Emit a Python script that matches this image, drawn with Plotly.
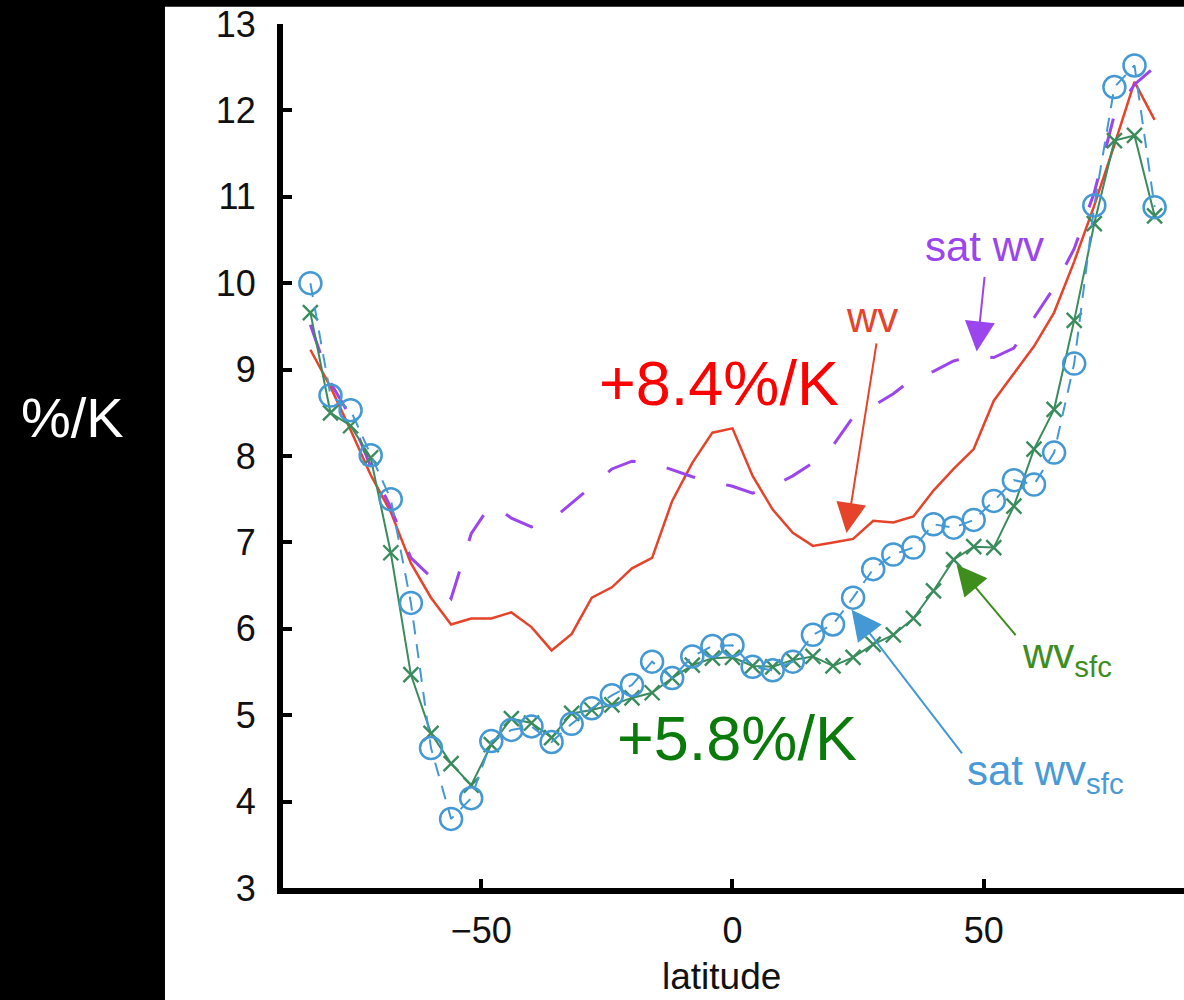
import plotly.graph_objects as go

# Latitude grid (degrees) and fractional change per K for each quantity
lat = [-84, -80, -76, -72, -68, -64, -60, -56, -52, -48, -44, -40, -36, -32,
       -28, -24, -20, -16, -12, -8, -4, 0, 4, 8, 12, 16, 20, 24, 28, 32, 36,
       40, 44, 48, 52, 56, 60, 64, 68, 72, 76, 80, 84]

wv = [9.23, 8.8, 8.3, 7.78, 7.35, 6.76, 6.36, 6.05, 6.12, 6.12, 6.19, 6.02,
      5.75, 5.94, 6.36, 6.48, 6.70, 6.82, 7.48, 7.92, 8.27, 8.32, 7.77, 7.38,
      7.11, 6.96, 7.0, 7.04, 7.25, 7.23, 7.30, 7.6, 7.85, 8.08, 8.64, 8.95,
      9.27, 9.66, 10.25, 10.9, 11.6, 12.33, 11.89]

sat_wv = [9.52, 8.85, 8.45, 7.88, 7.4, 6.82, 6.6, 6.35, 7.1, 7.45, 7.28, 7.18,
          7.26, 7.45, 7.65, 7.85, 7.94, 7.92, 7.84, 7.76, 7.7, 7.65, 7.57,
          7.65, 7.77, 7.92, 8.12, 8.45, 8.58, 8.72, 8.9, 8.98, 9.1, 9.16,
          9.14, 9.25, 9.6, 9.95, 10.4, 11.05, 11.95, 12.3, 12.5]

wv_sfc = [9.66, 8.50, 8.35, 7.98, 6.88, 5.47, 4.79, 4.44, 4.19, 4.66, 4.96,
          4.91, 4.74, 5.02, 5.06, 5.12, 5.2, 5.26, 5.43, 5.58, 5.66, 5.67,
          5.57, 5.56, 5.64, 5.68, 5.57, 5.67, 5.82, 5.93, 6.12, 6.44, 6.8,
          6.95, 6.94, 7.42, 8.08, 8.54, 9.57, 10.69, 11.65, 11.71, 10.78]

sat_wv_sfc = [10.0, 8.70, 8.53, 8.01, 7.50, 6.30, 4.62, 3.80, 4.04, 4.70,
              4.83, 4.87, 4.69, 4.90, 5.08, 5.23, 5.35, 5.62, 5.43, 5.68,
              5.80, 5.81, 5.56, 5.52, 5.62, 5.93, 6.05, 6.36, 6.69, 6.86,
              6.94, 7.21, 7.17, 7.26, 7.48, 7.72, 7.67, 8.04, 9.07, 10.90,
              12.27, 12.52, 10.88]

x_ticks = [-50, 0, 50]
y_ticks = [3, 4, 5, 6, 7, 8, 9, 10, 11, 12, 13]

RED = "#E5432A"
PURPLE = "#9B45EE"
GREEN = "#3A8C5C"
BLUE = "#4499D4"
FONT = "Liberation Sans, Arial, Helvetica, sans-serif"

fig = go.Figure()

fig.add_trace(go.Scatter(x=lat, y=wv, mode="lines", name="wv",
                         line=dict(color=RED, width=2.5)))
fig.add_trace(go.Scatter(x=lat, y=sat_wv, mode="lines", name="sat wv",
                         line=dict(color=PURPLE, width=3, dash="30px,32px")))
fig.add_trace(go.Scatter(x=lat, y=wv_sfc, mode="lines+markers", name="wv_sfc",
                         line=dict(color=GREEN, width=2),
                         marker=dict(symbol="x-thin", size=15,
                                     line=dict(color=GREEN, width=2.4))))
fig.add_trace(go.Scatter(x=lat, y=sat_wv_sfc, mode="lines+markers",
                         name="sat wv_sfc",
                         line=dict(color=BLUE, width=2, dash="14px,10px"),
                         marker=dict(symbol="circle-open", size=22,
                                     line=dict(color=BLUE, width=2.5))))


def pointer(tip_x, tip_y, tail_x, tail_y, color):
    return dict(x=tip_x, y=tip_y, ax=tail_x, ay=tail_y, axref="x", ayref="y",
                text="", showarrow=True, arrowhead=2, arrowsize=3,
                arrowwidth=2, arrowcolor=color)


annotations = [
    # rate labels
    dict(x=-2.7, y=8.85, text="+8.4%/K", showarrow=False,
         font=dict(color="#FF0000", size=63, family=FONT)),
    dict(x=0.9, y=4.74, text="+5.8%/K", showarrow=False,
         font=dict(color="#0A7A0A", size=63, family=FONT)),
    # series labels
    dict(x=27.7, y=9.6, text="wv", showarrow=False,
         font=dict(color=RED, size=42, family=FONT)),
    dict(x=50.2, y=10.42, text="sat wv", showarrow=False,
         font=dict(color=PURPLE, size=42, family=FONT)),
    dict(x=57.2, y=5.68, text="wv<sub>sfc</sub>", showarrow=False,
         xanchor="left", font=dict(color="#3E8E1E", size=42, family=FONT)),
    dict(x=46.3, y=4.33, text="sat wv<sub>sfc</sub>", showarrow=False,
         xanchor="left", font=dict(color="#4A9AD8", size=42, family=FONT)),
    # pointer arrows
    pointer(22.7, 7.11, 28.7, 9.32, RED),
    pointer(48.6, 9.21, 50.2, 10.09, PURPLE),
    pointer(44.6, 6.74, 56.6, 5.91, "#3E8E1E"),
    pointer(23.7, 6.22, 45.9, 4.54, BLUE),
    # axis titles
    dict(xref="paper", yref="paper", x=0.487, y=-0.1285, text="latitude",
         xanchor="center", yanchor="bottom", showarrow=False,
         font=dict(color="#111111", size=37, family=FONT)),
    dict(xref="paper", yref="paper", x=-0.234, y=0.544, text="%/K",
         xanchor="center", yanchor="middle", showarrow=False,
         font=dict(color="white", size=56, family=FONT)),
]

fig.update_layout(
    width=1184, height=1000,
    margin=dict(l=283, r=0, t=24, b=112),
    paper_bgcolor="black",
    plot_bgcolor="white",
    showlegend=False,
    annotations=annotations,
    shapes=[dict(type="rect", xref="paper", yref="paper",
                 x0=-0.131, x1=1.0, y0=-0.13, y1=1.02,
                 fillcolor="white", line=dict(width=0), layer="below")],
    font=dict(family=FONT, color="#111111"),
)

fig.update_xaxes(range=[-89.45, 89.85], tickvals=x_ticks, ticks="inside",
                 ticklen=9, tickwidth=4, tickcolor="black",
                 showline=True, linecolor="black", linewidth=6,
                 showgrid=False, zeroline=False,
                 tickfont=dict(size=36, color="#111111"),
                 ticklabelstandoff=6)
fig.update_yaxes(range=[3, 13], tickvals=y_ticks, ticks="inside",
                 ticklen=9, tickwidth=4, tickcolor="black",
                 showline=True, linecolor="black", linewidth=6,
                 showgrid=False, zeroline=False,
                 tickfont=dict(size=36, color="#111111"),
                 ticklabelstandoff=14)

fig.write_html("out.html")
